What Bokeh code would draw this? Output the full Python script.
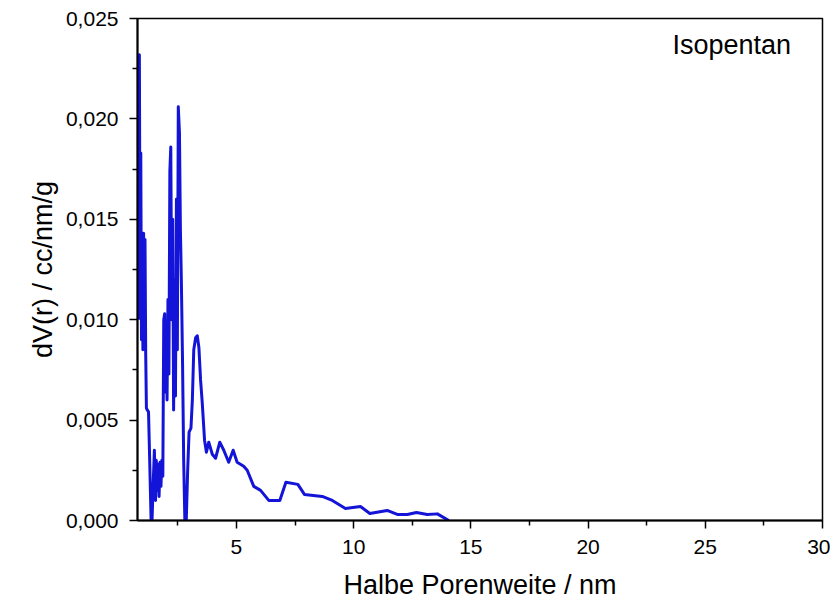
from bokeh.plotting import figure
from bokeh.models import FixedTicker, CustomJSTickFormatter, Label, Range1d
from bokeh.embed import file_html
from bokeh.resources import INLINE

# Data
radius_nm = [0.82, 0.86, 0.89, 0.92, 0.95, 0.98, 1.01, 1.04, 1.07, 1.10, 1.13, 1.16,
             1.20, 1.25, 1.30, 1.36, 1.40, 1.44, 1.50, 1.55, 1.58, 1.62, 1.66, 1.70,
             1.74, 1.78, 1.82, 1.86, 1.90, 1.94, 1.97, 2.00, 2.04, 2.08, 2.12, 2.16,
             2.20, 2.24, 2.28, 2.32, 2.36, 2.40, 2.44, 2.48, 2.52, 2.57, 2.61, 2.65,
             2.70, 2.75, 2.80, 2.86, 2.92, 2.98, 3.06, 3.12, 3.18, 3.26, 3.33, 3.40,
             3.47, 3.54, 3.64, 3.72, 3.82, 3.97, 4.11, 4.29, 4.46, 4.67, 4.86, 5.03,
             5.31, 5.46, 5.74, 6.03, 6.38, 6.85, 7.11, 7.62, 7.90, 8.66, 9.09, 9.65,
             10.29, 10.69, 11.43, 11.86, 12.29, 12.68, 13.14, 13.57, 14.06]
dv_r = [0.0100, 0.0232, 0.0120, 0.0183, 0.0090, 0.0143, 0.0085, 0.0143, 0.0088, 0.0140, 0.0083, 0.0056,
        0.0055, 0.0054, 0.0030, 0.0000, 0.0000, 0.0015, 0.0035, 0.0010, 0.0030, 0.0015, 0.0028, 0.0012,
        0.0029, 0.0017, 0.0030, 0.0022, 0.0100, 0.0103, 0.0064, 0.0098, 0.0060, 0.0110, 0.0073, 0.0174,
        0.0186, 0.0100, 0.0150, 0.0055, 0.0120, 0.0062, 0.0160, 0.0085, 0.0206, 0.0193, 0.0145, 0.0120,
        0.0080, 0.0030, 0.0000, 0.0000, 0.0025, 0.0044, 0.0046, 0.0060, 0.0085, 0.0091, 0.0092, 0.0086,
        0.0070, 0.0059, 0.0040, 0.0034, 0.0039, 0.0033, 0.0031, 0.0039, 0.0035, 0.0029, 0.0035, 0.0029,
        0.0027, 0.0025, 0.0017, 0.0015, 0.0010, 0.0010, 0.0019, 0.0018, 0.0013, 0.0012, 0.0010, 0.0006,
        0.0007, 0.00035, 0.0005, 0.0003, 0.0003, 0.0004, 0.0003, 0.00033, 0.0000]

x_ticks = [5, 10, 15, 20, 25, 30]
x_minor = [2.5, 7.5, 12.5, 17.5, 22.5, 27.5]
y_ticks = [0.000, 0.005, 0.010, 0.015, 0.020, 0.025]
y_minor = [0.0025, 0.0075, 0.0125, 0.0175, 0.0225]

FONT = "Liberation Sans"

p = figure(width=830, height=604, output_backend="svg", toolbar_location=None,
           x_range=Range1d(0.78, 30), y_range=Range1d(0, 0.025),
           min_border_left=137, min_border_right=8, min_border_top=18, min_border_bottom=84)

p.line(radius_nm, dv_r, line_color="#1414d8", line_width=3, line_join="round")

p.xgrid.visible = False
p.ygrid.visible = False
p.outline_line_color = "black"
p.outline_line_width = 1.5
p.background_fill_color = "white"
p.border_fill_color = "white"

for ax in (p.xaxis[0], p.yaxis[0]):
    ax.axis_line_color = "black"
    ax.axis_line_width = 2
    ax.major_tick_line_color = "black"
    ax.minor_tick_line_color = "black"
    ax.major_tick_line_width = 1.5
    ax.minor_tick_line_width = 1.5
    ax.major_tick_in = 0
    ax.major_tick_out = 8
    ax.minor_tick_in = 0
    ax.minor_tick_out = 5
    ax.major_label_text_font = FONT
    ax.major_label_text_font_size = "21px"
    ax.major_label_text_color = "black"
    ax.axis_label_text_font = FONT
    ax.axis_label_text_font_style = "normal"
    ax.axis_label_text_color = "black"
    ax.axis_label_text_font_size = "27px"

p.xaxis[0].ticker = FixedTicker(ticks=x_ticks, minor_ticks=x_minor)
p.yaxis[0].ticker = FixedTicker(ticks=y_ticks, minor_ticks=y_minor)
p.yaxis[0].formatter = CustomJSTickFormatter(code="return tick.toFixed(3).replace('.', ',');")
p.xaxis[0].formatter = CustomJSTickFormatter(code="return tick.toFixed(0);")
p.xaxis[0].major_label_standoff = 11
p.yaxis[0].major_label_standoff = 11
p.xaxis[0].axis_label = "Halbe Porenweite / nm"
p.yaxis[0].axis_label = "dV(r) / cc/nm/g"
p.xaxis[0].axis_label_standoff = 13
p.yaxis[0].axis_label_standoff = 5

p.add_layout(Label(x=23.6, y=0.0237, text="Isopentan", text_font=FONT,
                   text_font_size="27px", text_color="black",
                   text_align="left", text_baseline="middle"))

open("out.html", "w").write(file_html(p, INLINE))
